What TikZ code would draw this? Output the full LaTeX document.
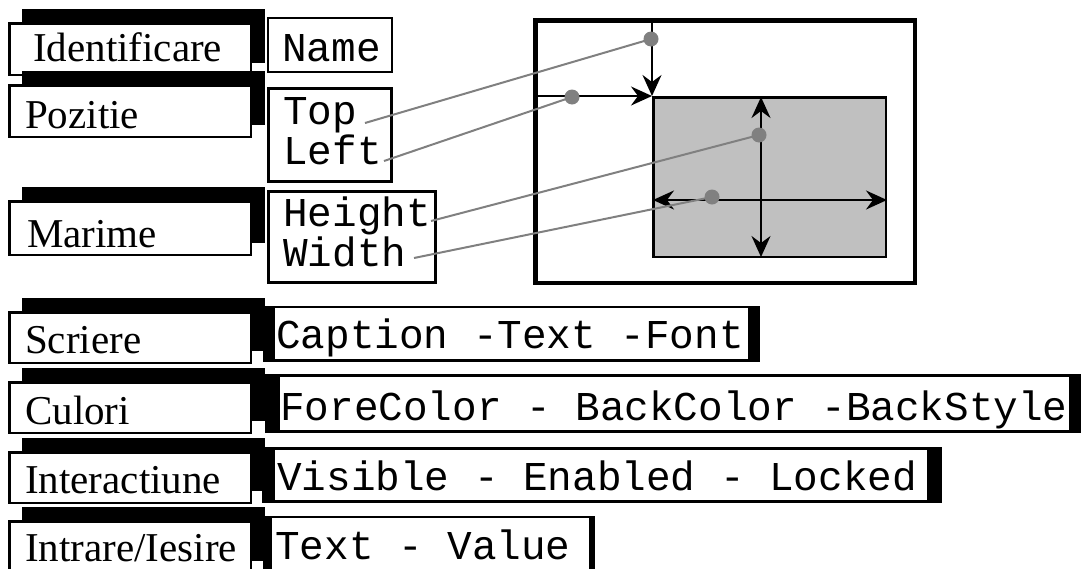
\documentclass[tikz,border=0pt]{standalone}
\usepackage{fontspec}
\setmainfont{Liberation Serif}
\newfontfamily\courier{Liberation Mono}
\usetikzlibrary{arrows.meta}
\definecolor{panelgray}{RGB}{192,192,192}
\definecolor{linkgray}{RGB}{128,128,128}

\begin{document}
\begin{tikzpicture}[x=1pt,y=-1pt,
  lbl/.style={anchor=base west, inner sep=0pt, font=\fontsize{41}{41}\selectfont},
  code/.style={anchor=base west, inner sep=0pt, font=\courier\fontsize{41}{41}\selectfont},
  catbox/.style={draw=black, fill=white, line width=2.5pt},
  propbox/.style={draw=black, fill=white, line width=1.6pt},
  thickbox/.style={draw=black, fill=white, line width=3pt},
  band/.style={fill=black},
  tip/.style={-{Stealth[length=21pt,width=19pt,inset=7pt]}},
  dbl/.style={{Stealth[length=21pt,width=19pt,inset=7pt]}-{Stealth[length=21pt,width=19pt,inset=7pt]}},
  axis/.style={draw=black, line width=2pt},
  link/.style={draw=linkgray, line width=2pt},
  dot/.style={circle, fill=linkgray, inner sep=0pt, minimum size=15pt}
]
\clip (0,0) rectangle (1081,568);

% category boxes on the left, each with a black offset shadow
\foreach \t/\b in {22/76, 84/138, 200/256, 311/364, 381/434, 451/504, 520/574} {
  \fill[band] (22,\t-13) rectangle (265,\b-13);
  \draw[catbox] (9.25,\t+1.25) rectangle (250.75,\b-1.25);
}

\node[lbl] (identificare) at (33,61) {Identificare};
\node[lbl] (pozitie) at (25,128) {Pozitie};
\node[lbl] (marime) at (27,247) {Marime};
\node[lbl] (scriere) at (25,353) {Scriere};
\node[lbl] (culori) at (25,424) {Culori};
\node[lbl] (interactiune) at (25,493) {Interactiune};
\node[lbl] (intrare) at (25,561) {Intrare/Iesire};

% property boxes, upper block
\draw[propbox, line width=2pt] (268,18) rectangle (392,72);
\draw[thickbox] (268.5,88.5) rectangle (391.5,181.5);
\draw[thickbox] (268.5,191.5) rectangle (435.5,282.5);

\node[code] (name) at (282,61) {Name};
\node[code] (top) at (283,124) {Top};
\node[code] (left) at (283,164) {Left};
\node[code] (height) at (283,226) {Height};
\node[code] (width) at (283,266) {Width};

% property boxes, lower block (black bands left and right)
\fill[band] (263,306) rectangle (760,362);
\draw[propbox] (273.8,306.8) rectangle (749.2,360.2);
\fill[band] (265,374) rectangle (1081,433);
\draw[propbox] (278.8,375.8) rectangle (1070.2,431.2);
\fill[band] (262,447) rectangle (942,503);
\draw[propbox] (273.8,448.8) rectangle (928.2,501.2);
\fill[band] (263,516) rectangle (595,572);
\draw[propbox] (270.8,516.8) rectangle (590.2,572);

\node[code] (caption) at (276,348) {Caption -Text -Font};
\node[code] (colors) at (280,420) {ForeColor - BackColor -BackStyle};
\node[code] (visible) at (277,490) {Visible - Enabled - Locked};
\node[code] (textvalue) at (275,559) {Text - Value};

% form with a control inside
\draw[draw=black, line width=4.5pt] (535.25,20.25) rectangle (914.75,282.75);
\draw[draw=black, fill=panelgray, line width=2.5pt] (653.25,97.25) rectangle (885.75,256.75);

\coordinate (formtop) at (652,20);
\coordinate (formleft) at (535,96);
\coordinate (ctlcorner) at (652,96);
\draw[axis, tip] (formtop) -- (ctlcorner);
\draw[axis, tip] (formleft) -- (ctlcorner);

\coordinate (ctltop) at (761,97);
\coordinate (ctlbottom) at (761,257);
\coordinate (ctlleft) at (653,200);
\coordinate (ctlright) at (887,200);
\draw[axis, dbl] (ctltop) -- (ctlbottom);
\draw[axis, dbl] (ctlleft) -- (ctlright);

% leader lines from property names to the measured distances
\coordinate (etop) at (365,123);
\coordinate (eleft) at (384,161);
\coordinate (eheight) at (431,221);
\coordinate (ewidth) at (414,258);
\coordinate (ptop) at (651,39);
\coordinate (pleft) at (572,97);
\coordinate (pheight) at (759,135);
\coordinate (pwidth) at (712,197);

\draw[link] (etop) -- (ptop);
\draw[link] (eleft) -- (pleft);
\draw[link] (eheight) -- (pheight);
\draw[link] (ewidth) -- (pwidth);

\node[dot] (dtop) at (ptop) {};
\node[dot] (dleft) at (pleft) {};
\node[dot] (dheight) at (pheight) {};
\node[dot] (dwidth) at (pwidth) {};
\end{tikzpicture}
\end{document}
